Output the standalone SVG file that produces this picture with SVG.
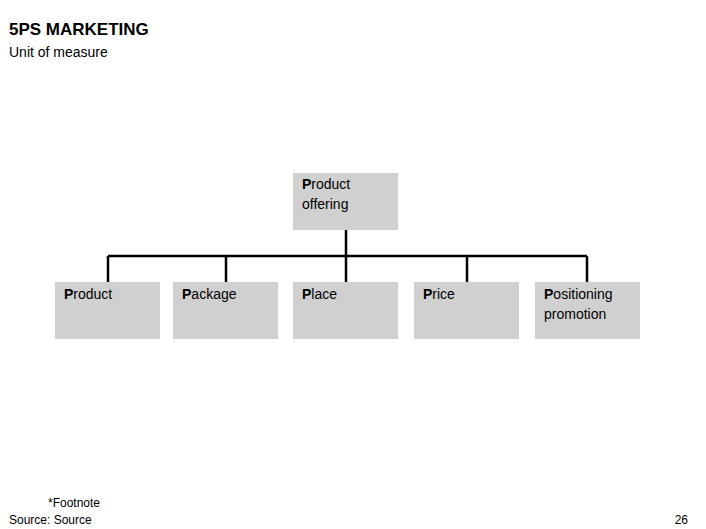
<svg xmlns="http://www.w3.org/2000/svg" width="706" height="529" viewBox="0 0 706 529">
<style>
text{font-family:"Liberation Sans",Arial,sans-serif;fill:#000}
.box{fill:#d0d0d0}
.t{font-size:14px}
b{font-weight:bold}
.c{stroke:#000;stroke-width:2.5;fill:none}
</style>
<rect width="706" height="529" fill="#fff"/>
<text x="9" y="35" font-size="17" font-weight="bold">5PS MARKETING</text>
<text x="9" y="57" font-size="14">Unit of measure</text>
<g id="connectors">
<path class="c" d="M346 230V256M108 256H587M108 256V282M226 256V282M346 256V282M467 256V282M587 256V282"/>
</g>
<g id="n0"><rect class="box" x="293" y="173" width="105" height="57"/><text class="t" x="302" y="189"><tspan font-weight="bold">P</tspan>roduct</text><text class="t" x="302" y="209">offering</text></g>
<g id="n1"><rect class="box" x="55" y="282" width="105" height="57"/><text class="t" x="64" y="299"><tspan font-weight="bold">P</tspan>roduct</text></g>
<g id="n2"><rect class="box" x="173" y="282" width="105" height="57"/><text class="t" x="182" y="299"><tspan font-weight="bold">P</tspan>ackage</text></g>
<g id="n3"><rect class="box" x="293" y="282" width="105" height="57"/><text class="t" x="302" y="299"><tspan font-weight="bold">P</tspan>lace</text></g>
<g id="n4"><rect class="box" x="414" y="282" width="105" height="57"/><text class="t" x="423" y="299"><tspan font-weight="bold">P</tspan>rice</text></g>
<g id="n5"><rect class="box" x="535" y="282" width="105" height="57"/><text class="t" x="544" y="299"><tspan font-weight="bold">P</tspan>ositioning</text><text class="t" x="544" y="319">promotion</text></g>
<text x="48" y="507" font-size="12">*Footnote</text>
<text x="9" y="524" font-size="12">Source: Source</text>
<text x="688" y="524" font-size="12" text-anchor="end">26</text>
</svg>
